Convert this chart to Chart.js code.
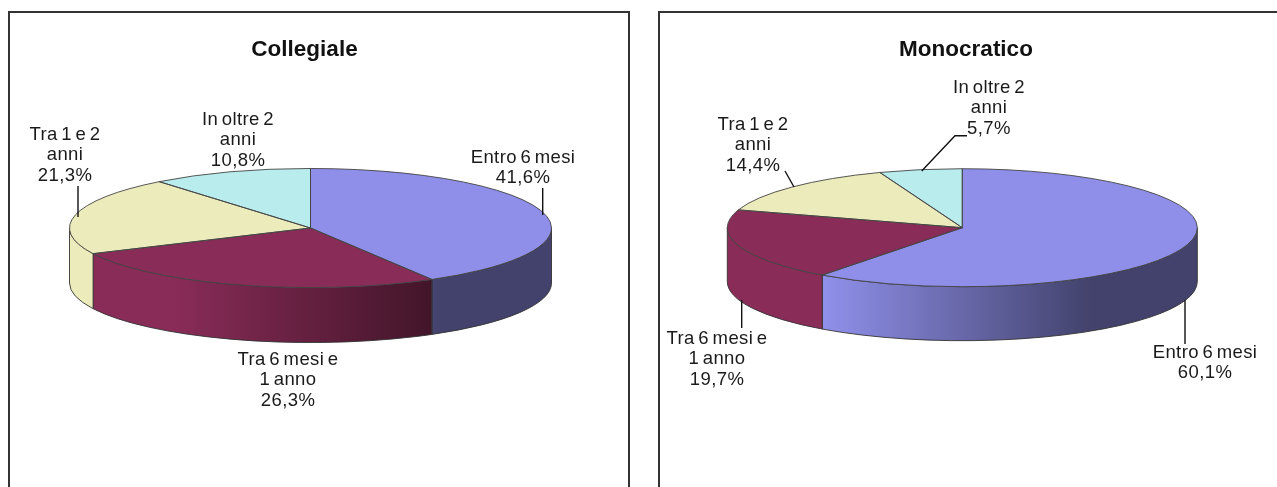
<!DOCTYPE html>
<html lang="it">
<head>
<meta charset="utf-8">
<title>Collegiale / Monocratico</title>
<script src="https://cdn.jsdelivr.net/npm/chart.js@4"></script>
<style>
    html, body { margin: 0; background: #fff; overflow: hidden; width: 1277px; height: 487px; }
    #page { position: relative; width: 1277px; height: 487px; overflow: hidden; filter: blur(0.45px); }
    .frame { position: absolute; top: 11px; height: 520px; border: 2px solid #333; box-sizing: border-box; }
    #frame1 { left: 8px; width: 622px; }
    #frame2 { left: 658px; width: 660px; }
    canvas { position: absolute; top: 0; }
    #chart1 { left: 0; }
    #chart2 { left: 640px; }
</style>
</head>
<body>
<div id="page">
    <div class="frame" id="frame1"></div>
    <div class="frame" id="frame2"></div>
    <canvas id="chart1" width="640" height="487"></canvas>
    <canvas id="chart2" width="637" height="487"></canvas>
</div>
<script>
const categories = [
    ['Entro 6 mesi'],
    ['Tra 6 mesi e', '1 anno'],
    ['Tra 1 e 2', 'anni'],
    ['In oltre 2', 'anni']
];
const collegialeValues = [41.6, 26.3, 21.3, 10.8];
const monocraticoValues = [60.1, 19.7, 14.4, 5.7];
const sliceColors = ['#8f8fea', '#8a2c58', '#ecebbb', '#b9ecec'];

const FONT = '"Liberation Sans", Arial, sans-serif';

// --- Darken a hex colour, used for the side wall shading ---
function shade(hex, k) {
    const n = parseInt(hex.slice(1), 16);
    const r = Math.round((n >> 16 & 255) * k);
    const g = Math.round((n >> 8 & 255) * k);
    const b = Math.round((n & 255) * k);
    return `rgb(${r}, ${g}, ${b})`;
}

// Chart.js has no 3D pie: the plugin squashes the pie and adds the wall under it
const tiltedPie = {
    id: 'tiltedPie',
    afterLayout(chart, args, opts) {
        const a = chart.chartArea;
        a.left = opts.cx - opts.rx;
        a.right = opts.cx + opts.rx;
        a.top = opts.cy - opts.rx;
        a.bottom = opts.cy + opts.rx;
        a.width = a.height = opts.rx * 2;
        chart.titleBlock.left += opts.titleShift;
        chart.titleBlock.right += opts.titleShift;
    },
    beforeDatasetsDraw(chart, args, opts) {
        const ctx = chart.ctx;
        const ry = opts.rx * opts.tilt;
        const grad = (color) => {
            const g = ctx.createLinearGradient(opts.cx - opts.rx * 0.58, 0, opts.cx + opts.rx * 0.55, 0);
            g.addColorStop(0, color);
            g.addColorStop(1, shade(color, 0.46));
            return g;
        };
        chart.getDatasetMeta(0).data.forEach((arc, i) => {
            const a0 = Math.max(arc.startAngle, 0);
            const a1 = Math.min(arc.endAngle, Math.PI);
            if (a1 <= a0) {
                return;
            }
            ctx.beginPath();
            ctx.ellipse(opts.cx, opts.cy, opts.rx, ry, 0, a0, a1);
            ctx.ellipse(opts.cx, opts.cy + opts.depth, opts.rx, ry, 0, a1, a0, true);
            ctx.closePath();
            ctx.fillStyle = grad(sliceColors[i]);
            ctx.fill();
            ctx.strokeStyle = '#333';
            ctx.lineWidth = 0.9;
            ctx.stroke();
        });
        ctx.save();
        ctx.translate(opts.cx, opts.cy);
        ctx.scale(1, opts.tilt);
        ctx.translate(-opts.cx, -opts.cy);
    },
    afterDatasetsDraw(chart, args, opts) {
        const ctx = chart.ctx;
        ctx.restore();
        const ry = opts.rx * opts.tilt;
        // slice outlines, stroked without the squash so the width stays even
        chart.getDatasetMeta(0).data.forEach((arc) => {
            ctx.beginPath();
            ctx.moveTo(opts.cx, opts.cy);
            ctx.ellipse(opts.cx, opts.cy, opts.rx, ry, 0, arc.startAngle, arc.endAngle);
            ctx.closePath();
            ctx.strokeStyle = '#444';
            ctx.lineWidth = 0.9;
            ctx.stroke();
        });
        // leader lines
        ctx.strokeStyle = '#111';
        ctx.lineWidth = 1.4;
        opts.leaders.forEach((pts) => {
            ctx.beginPath();
            pts.forEach((p, i) => {
                if (i === 0) {
                    ctx.moveTo(p[0] - opts.originX, p[1]);
                } else {
                    ctx.lineTo(p[0] - opts.originX, p[1]);
                }
            });
            ctx.stroke();
        });
        // data labels
        const values = chart.data.datasets[0].data;
        ctx.fillStyle = '#1a1a1a';
        ctx.font = `18.5px ${FONT}`;
        ctx.letterSpacing = '0.4px';
        ctx.wordSpacing = '-2px';
        ctx.textAlign = 'center';
        ctx.textBaseline = 'middle';
        chart.data.labels.forEach((label, i) => {
            const lines = label.concat(values[i].toFixed(1).replace('.', ',') + '%');
            const pos = opts.labelAt[i];
            lines.forEach((line, k) => {
                ctx.fillText(line, pos[0] - opts.originX, pos[1] + k * 20.7);
            });
        });
        ctx.letterSpacing = '0px';
        ctx.wordSpacing = '0px';
    }
};

function makePie(id, title, values, pie) {
    return new Chart(document.getElementById(id), {
        type: 'pie',
        data: {
            labels: categories,
            datasets: [{
                data: values,
                backgroundColor: sliceColors,
                borderWidth: 0,
                clip: 800
            }]
        },
        options: {
            responsive: false,
            animation: false,
            events: [],
            layout: { padding: 0 },
            plugins: {
                legend: { display: false },
                tooltip: { enabled: false },
                title: {
                    display: true,
                    text: title,
                    color: '#111',
                    font: { family: FONT, size: 22.5, weight: 'bold' },
                    padding: { top: 36.5, bottom: 0 }
                },
                tiltedPie: pie
            }
        },
        plugins: [tiltedPie]
    });
}

makePie('chart1', 'Collegiale', collegialeValues, {
    originX: 0,
    cx: 310.5,
    cy: 228,
    rx: 241,
    tilt: 0.247,
    depth: 55,
    titleShift: -15.5,
    labelAt: [[523, 157.5], [288, 359.5], [65, 134.5], [238, 119.5]],
    leaders: [
        [[542.7, 188], [542.7, 215]],
        [[78, 186], [78, 217]]
    ]
});

makePie('chart2', 'Monocratico', monocraticoValues, {
    originX: 640,
    cx: 322.3,
    cy: 227.7,
    rx: 235,
    tilt: 0.251,
    depth: 54,
    titleShift: 7.5,
    labelAt: [[1205, 352.5], [717, 338.5], [753, 124.5], [989, 87.5]],
    leaders: [
        [[1185, 300], [1185, 344]],
        [[741.7, 300], [741.7, 328]],
        [[785, 171], [794, 187]],
        [[921.7, 171], [955, 135.7], [967, 135.7]]
    ]
});
</script>
</body>
</html>
